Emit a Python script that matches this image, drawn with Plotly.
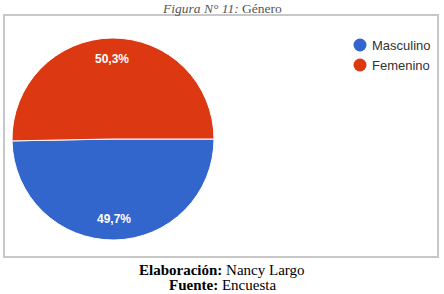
import math
import plotly.graph_objects as go

W, H = 444, 294
labels = ["Masculino", "Femenino"]
values = [49.7, 50.3]
colors = ["#3366CC", "#DC3912"]
ROT = 90

# pie geometry (pixels)
CX, CY, R = 113, 139, 101

fig = go.Figure()
fig.add_trace(go.Pie(
    labels=labels, values=values, sort=False, direction="clockwise", rotation=ROT,
    marker=dict(colors=colors, line=dict(color="white", width=1)),
    textinfo="none", showlegend=False, hoverinfo="none",
    domain=dict(x=[(CX-R)/W, (CX+R)/W], y=[1-(CY+R)/H, 1-(CY-R)/H]),
))

def A(text, x, y, size, family="Arial, Liberation Sans", color="black", xanchor="center"):
    return dict(text=text, x=x/W, y=1-y/H, xref="paper", yref="paper", showarrow=False,
                xanchor=xanchor, yanchor="middle",
                font=dict(family=family, size=size, color=color))

annotations = []
shapes = []
total = sum(values)
start = ROT
for v in values:
    span = 360 * v / total
    mid = math.radians(start + span / 2)
    px = CX + 0.79 * R * math.sin(mid)
    py = CY - 0.79 * R * math.cos(mid)
    annotations.append(A("<b>" + f"{100*v/total:.1f}".replace(".", ",") + "%</b>",
                         px, py, 12, color="white"))
    start += span

# legend (markers as shapes, labels as annotations)
for i, (lab, col) in enumerate(zip(labels, colors)):
    ly = 45 + 20 * i
    shapes.append(dict(type="circle", xref="paper", yref="paper",
                       x0=(360-6.5)/W, x1=(360+6.5)/W, y0=1-(ly+6.5)/H, y1=1-(ly-6.5)/H,
                       fillcolor=col, line=dict(width=0)))
    annotations.append(A(lab, 370, ly, 13, color="#333", xanchor="left"))

annotations += [
    A("<i>Figura N° 11:</i> Género", 222, 8, 13.5, family="Liberation Serif", color="#555"),
    A("<b>Elaboración:</b> Nancy Largo", 222, 270, 15, family="Liberation Serif"),
    A("<b>Fuente:</b> Encuesta", 222, 285, 15, family="Liberation Serif"),
]

shapes.append(dict(type="rect", xref="paper", yref="paper",
                   x0=4/W, x1=438/W, y0=1-257/H, y1=1-15/H,
                   line=dict(color="#C8C8C8", width=2)))

fig.update_layout(
    width=W, height=H, margin=dict(l=0, r=0, t=0, b=0),
    paper_bgcolor="white", plot_bgcolor="white",
    shapes=shapes, annotations=annotations,
)
fig.write_html("out.html")
